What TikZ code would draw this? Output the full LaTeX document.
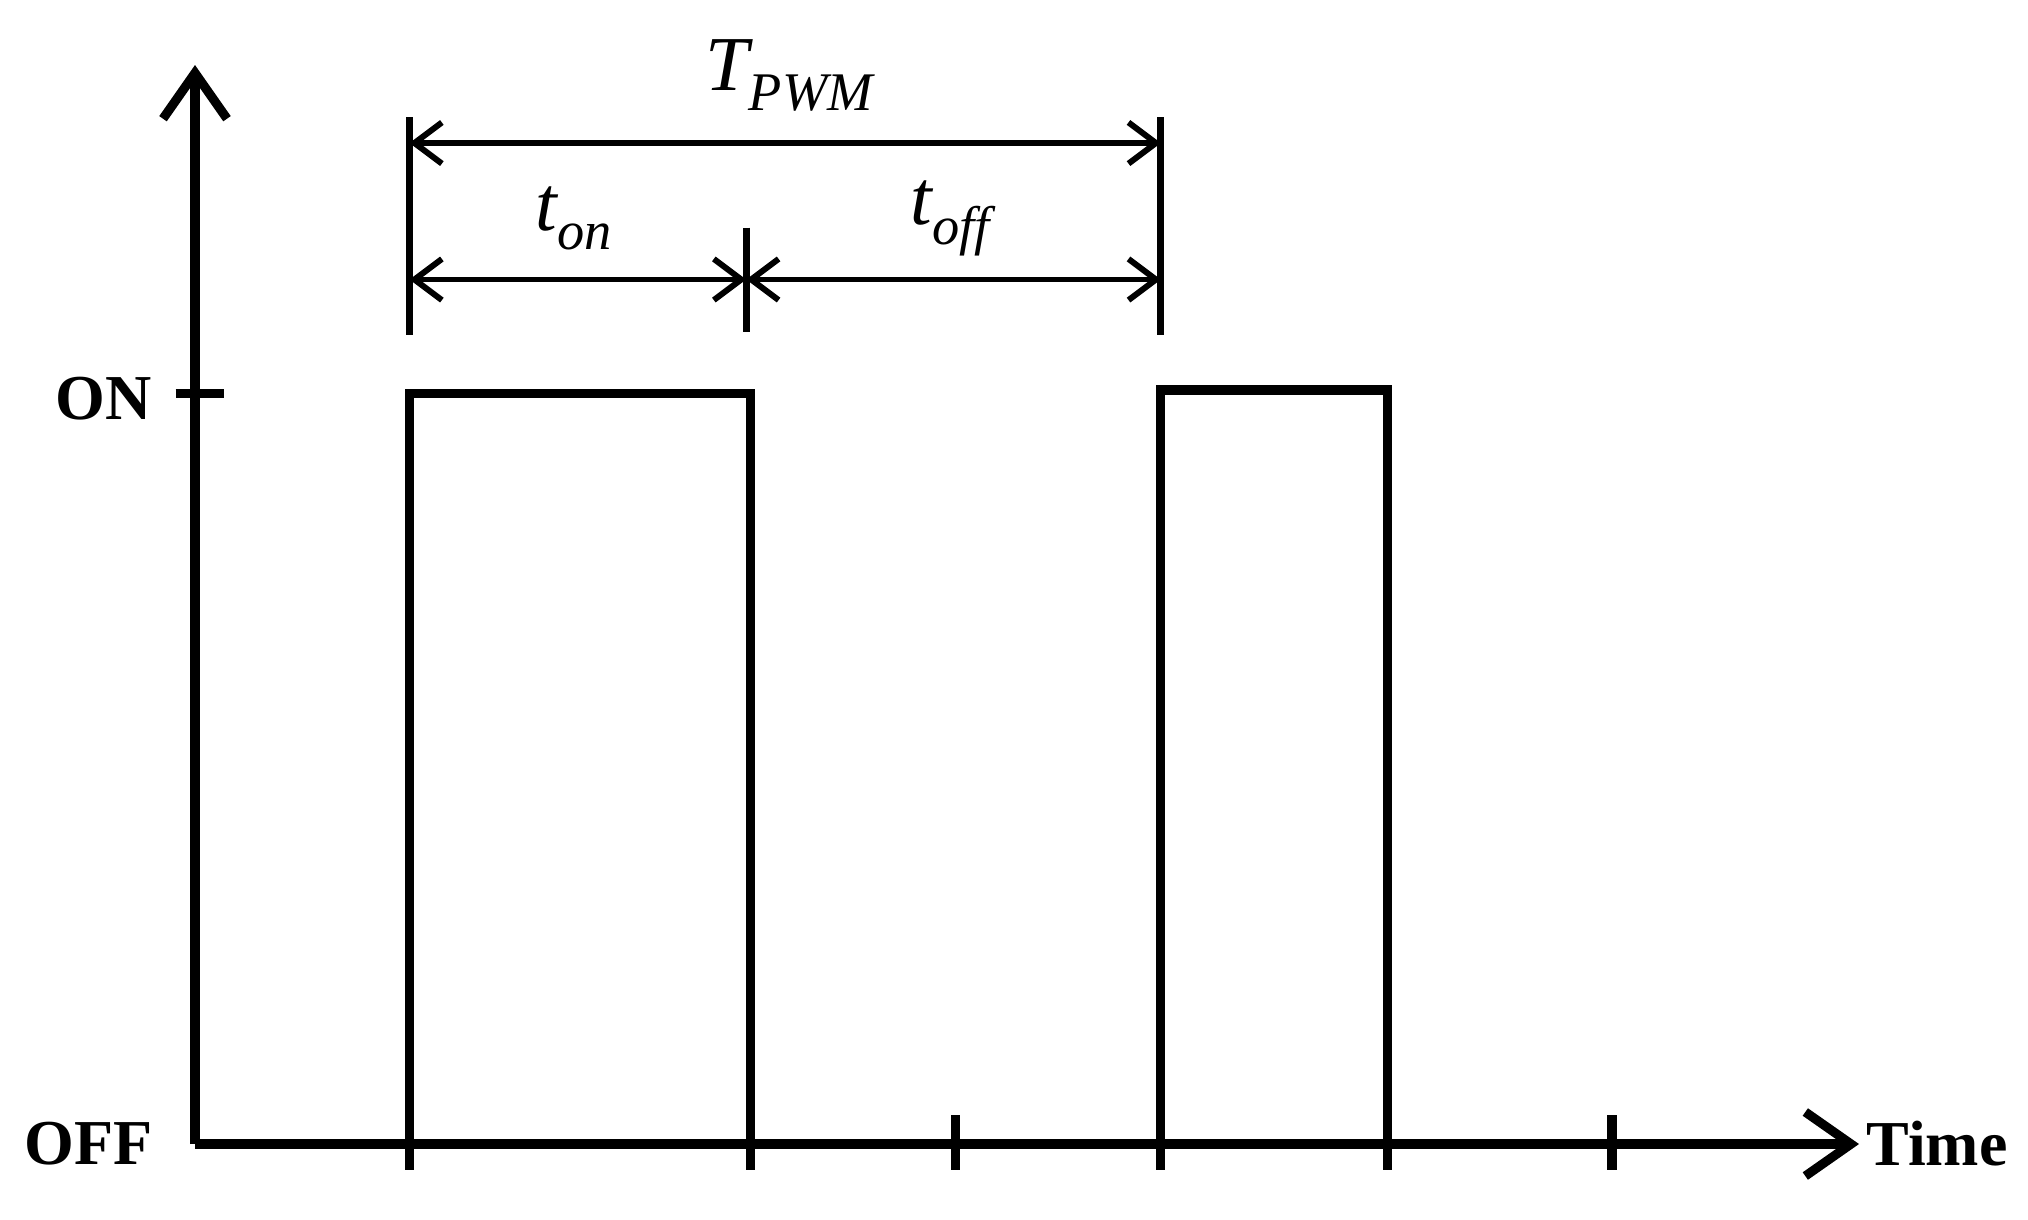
\documentclass[tikz,border=0pt]{standalone}
\usepackage{fontspec}
\setmainfont{Liberation Serif}
\usepackage{unicode-math}
\setmathfont{Latin Modern Math}
\setmathfont[range={it/{latin,Latin}}]{Liberation Serif Italic}
\usetikzlibrary{arrows.meta}
\begin{document}
\begin{tikzpicture}[x=0.01cm,y=-0.01cm,
  thick line/.style={line width=2pt},
  dim/.style={line width=1.3pt,{Straight Barb[length=6pt,width=9pt]}-{Straight Barb[length=6pt,width=9pt]}},
  lbl/.style={font=\bfseries\fontsize{14}{17}\selectfont}]
\useasboundingbox (0,0) rectangle (1560,938);
\coordinate (O) at (150,880);
\coordinate (Ytop) at (150,50);
\coordinate (Xend) at (1430,880);
\draw[thick line,-{Straight Barb[length=10pt,width=14pt]}] (O) -- (Ytop);
\draw[thick line,-{Straight Barb[length=10pt,width=14pt]}] (O) -- (Xend);
\draw[thick line] (135,303) -- (172,303);
\node[lbl] (on) at (80,307) {ON};
\node[lbl] (off) at (68,880) {OFF};
\node[lbl] (time) at (1490,880) {Time};
\draw[thick line] (315,880) -- (315,303) -- (577,303) -- (577,880);
\draw[thick line] (893,880) -- (893,300) -- (1067,300) -- (1067,880);
\foreach \x in {315,577,735,893,1067,1240} \draw[thick line] (\x,858) -- (\x,900);
\draw[line width=1.5pt] (315,90) -- (315,258);
\draw[line width=1.5pt] (893,90) -- (893,258);
\draw[line width=1.5pt] (574,175) -- (574,255);
\coordinate (a1) at (315,110); \coordinate (a2) at (893,110);
\coordinate (b1) at (315,215); \coordinate (b2) at (574,215); \coordinate (b3) at (893,215);
\draw[dim] (a1) -- (a2);
\draw[dim] (b1) -- (b2);
\draw[dim] (b2) -- (b3);
\node[font=\fontsize{17}{20}\selectfont] (tp) at (608,58) {$T_{PWM}$};
\node[font=\fontsize{17}{20}\selectfont] (ton) at (442,168) {$t_{on}$};
\node[font=\fontsize{17}{20}\selectfont] (toff) at (732,168) {$t_{off}$};
\end{tikzpicture}
\end{document}
